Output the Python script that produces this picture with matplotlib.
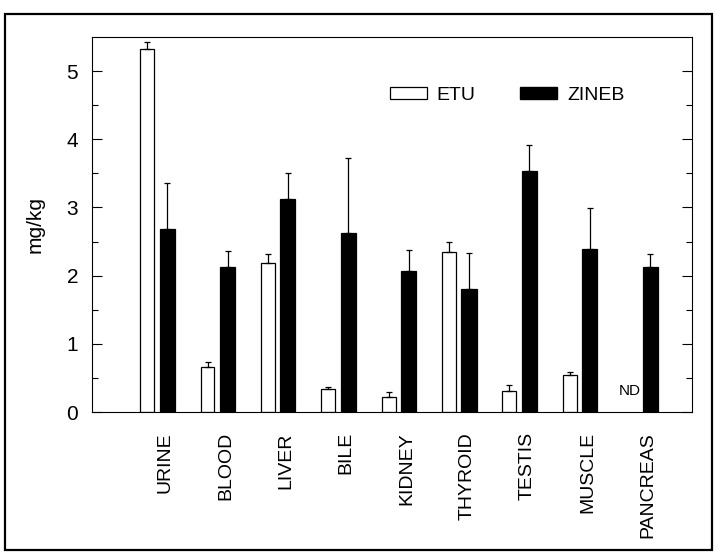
import numpy as np
import matplotlib
matplotlib.use("Agg")
import matplotlib.pyplot as plt
from matplotlib.patches import Rectangle, Patch

tissues = ["URINE", "BLOOD", "LIVER", "BILE", "KIDNEY", "THYROID", "TESTIS", "MUSCLE", "PANCREAS"]
etu = [5.33, 0.66, 2.18, 0.34, 0.22, 2.34, 0.31, 0.54, 0.0]
etu_err = [0.10, 0.08, 0.14, 0.03, 0.07, 0.16, 0.08, 0.05, 0.0]
zineb = [2.68, 2.12, 3.13, 2.62, 2.07, 1.81, 3.54, 2.39, 2.12]
zineb_err = [0.68, 0.24, 0.37, 1.10, 0.31, 0.52, 0.38, 0.60, 0.19]

plt.rcParams['font.family'] = ['Liberation Sans', 'DejaVu Sans']

fig = plt.figure(figsize=(7.25, 5.55), dpi=100)
ax = fig.add_axes([92 / 725, 1 - 412 / 555, 600 / 725, 375 / 555])

x = np.arange(len(tissues))
off = 0.166
w = 0.23

etu_shown = [v if v > 0 else np.nan for v in etu]
ax.bar(x - off, etu_shown, w, color='white', edgecolor='black', linewidth=0.9,
       yerr=[np.zeros(len(x)), etu_err], capsize=2.5,
       error_kw=dict(elinewidth=0.9, capthick=0.9, ecolor='black'))
ax.bar(x + off, zineb, w + 0.02, color='black', edgecolor='black', linewidth=0.9,
       yerr=[np.zeros(len(x)), zineb_err], capsize=2.5,
       error_kw=dict(elinewidth=0.9, capthick=0.9, ecolor='black'))

ax.text(8 - off, 0.2, "ND", ha='center', va='bottom', fontsize=11)

ax.set_xlim(-1.08, 8.86)
ax.set_ylim(0, 5.5)
ax.set_yticks(range(6))
ax.set_yticks(np.arange(0.5, 5.5, 1), minor=True)
ax.tick_params(axis='y', which='major', direction='in', length=7, width=0.8,
               right=True, labelsize=15, pad=10)
ax.tick_params(axis='y', which='minor', direction='in', length=4, width=0.8, right=True)
ax.set_xticks(x + 0.13)
ax.set_xticklabels(tissues, rotation=90, fontsize=14, va='top')
ax.tick_params(axis='x', length=0, pad=14.5)
for s in ax.spines.values():
    s.set_linewidth(0.8)

ax.set_ylabel("mg/kg", fontsize=15, labelpad=16)

handles = [Patch(facecolor='white', edgecolor='black', linewidth=0.9),
           Patch(facecolor='black', edgecolor='black')]
ax.legend(handles, ["ETU", "ZINEB"], ncol=2, frameon=False, fontsize=14,
          loc='center left', bbox_to_anchor=(0.497, 0.845),
          handlelength=1.9, handleheight=0.57, columnspacing=2.3, handletextpad=0.5,
          borderpad=0, borderaxespad=0)

fig.patches.append(Rectangle((5 / 725, 1 - 550 / 555), 707 / 725, 536 / 555,
                             transform=fig.transFigure, fill=False,
                             edgecolor='black', linewidth=1.6))

fig.savefig("out.png", dpi=100)
